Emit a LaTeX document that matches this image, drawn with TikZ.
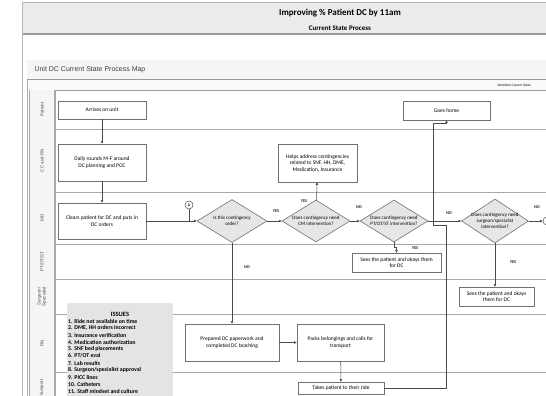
\documentclass[tikz,border=0pt]{standalone}
\usepackage{fontspec}
\setmainfont{Carlito}
\newfontfamily\arialfont{Liberation Sans}
\usetikzlibrary{arrows.meta, shapes.geometric, calc}
\definecolor{hdrfill}{HTML}{EBEBEB}
\definecolor{framegray}{HTML}{9A9A9A}
\definecolor{lanegray}{HTML}{A8A8A8}
\definecolor{boxgray}{HTML}{707070}
\definecolor{flowgray}{HTML}{4A4A4A}
\definecolor{decfill}{HTML}{E6E6E6}
\definecolor{issuefill}{HTML}{E4E4E4}

\begin{document}
\begin{tikzpicture}[
    x=1pt, y=-1pt,
    font=\fontsize{5.5}{6.5}\selectfont,
    procbox/.style={draw=boxgray, fill=white, line width=0.6pt, inner sep=1pt, align=center},
    decision/.style={diamond, draw=boxgray, fill=decfill, line width=0.6pt, inner sep=-8pt, align=center,
        font=\fontsize{5}{5.8}\selectfont},
    flow/.style={draw=flowgray, line width=0.5pt, -{Triangle[length=2.6pt, width=2.4pt]}},
    plain/.style={draw=flowgray, line width=0.5pt},
    conn/.style={circle, draw=flowgray, fill=white, line width=0.5pt, inner sep=0pt, minimum size=8pt,
        font=\fontsize{4}{4}\selectfont\bfseries},
    answer/.style={font=\fontsize{4.3}{4.3}\selectfont\bfseries, text=black!85},
    lanelbl/.style={rotate=90, align=center, text=black!70, font=\arialfont\fontsize{4.5}{5}\selectfont},
]
\clip (0,0) rectangle (546,396);
\useasboundingbox (0,0) rectangle (546,396);

% Page header
\fill[hdrfill] (22,2) rectangle (548,34);
\draw[framegray, line width=1.5pt] (22,34) -- (548,34);
\draw[framegray!70] (22,2) -- (548,2);
\draw[framegray!70] (22,2) -- (22,400);
\node[font=\fontsize{9}{9}\selectfont\bfseries] (title) at (340,13) {Improving \% Patient DC by 11am};
\node[font=\fontsize{7}{7}\selectfont\bfseries] (subtitle) at (340,28) {Current State Process};

% Map panel
\draw[framegray!80, fill=white] (27,60) rectangle (550,400);
\fill[black!4] (27,60) rectangle (550,79);
\draw[framegray, line width=1pt] (27,79) -- (550,79);
\node[anchor=west, text=black!75, font=\arialfont\fontsize{7}{7}\selectfont] (maptitle) at (31,70) {Unit DC Current State Process Map};
\fill[black!2] (29,80) rectangle (550,90);
\draw[framegray] (29,90) -- (550,90);
\node[anchor=west, font=\arialfont\fontsize{3.2}{3.2}\selectfont] (wftag) at (494,85) {Workflow Current State};

% Swim lanes
\foreach \lbl/\ya/\yb [count=\i] in {Patient/90/129, CC and RN/129/192, MD/192/244, {PT/OT/ST}/244/279,
    {Surgeon/\\Specialist}/279/314, RN/314/372, Transport/372/406} {
    \fill[black!4] (29,\ya) rectangle (55,\yb);
    \draw[lanegray, line width=0.8pt] (29,\yb) -- (550,\yb);
    \node[lanelbl] (lane\i) at (42,{(\ya+\yb)/2}) {\lbl};
}
\draw[lanegray, line width=0.8pt] (29,90) -- (29,400);
\draw[lanegray, line width=1.2pt] (55,90) -- (55,400);

% Process steps
\node[procbox, minimum width=88, minimum height=18] (arrive) at (102,110) {Arrives on unit};
\node[procbox, minimum width=88, minimum height=37] (rounds) at (102,162.5) {Daily rounds M-F around\\DC planning and POC};
\node[procbox, minimum width=88, minimum height=36] (clears) at (102,221) {Clears patient for DC and puts in\\DC orders};
\node[procbox, minimum width=79, minimum height=38] (helps) at (317.5,163) {Helps address contingencies\\related to SNF, HH, DME,\\Medication, Insurance};
\node[procbox, minimum width=87, minimum height=19] (goes) at (446.5,110.5) {Goes home};
\node[procbox, minimum width=89, minimum height=19] (sees1) at (396.5,262.5) {Sees the patient and okays them\\for DC};
\node[procbox, minimum width=75, minimum height=19] (sees2) at (496.5,296.5) {Sees the patient and okays\\them for DC};
\node[procbox, minimum width=94, minimum height=37] (prep) at (232,342.5) {Prepared DC paperwork and\\completed DC teaching};
\node[procbox, minimum width=87, minimum height=37] (packs) at (340.5,342.5) {Packs belongings and calls for\\transport};
\node[procbox, minimum width=86, minimum height=12] (takes) at (341,388) {Takes patient to their ride};

% Decisions
\node[decision, minimum width=70, minimum height=43] (dec1) at (232,221) {Is this contingency\\order?};
\node[decision, minimum width=68, minimum height=42] (dec2) at (316,221) {Does contingency need\\CM intervention?};
\node[decision, minimum width=68, minimum height=42] (dec3) at (394,221) {Does contingency need\\PT/OT/ST intervention?};
\node[decision, minimum width=67, minimum height=44] (dec4) at (495,221) {Does contingency need\\surgeon/specialist\\intervention?};

% Off-page connectors
\node[conn] (circA) at (189,205) {A};
\node[conn] (circA2) at (547,221) {A};

% Flow
\draw[flow] (arrive) -- (rounds);
\draw[flow] (rounds) -- (clears);
\draw[flow] (clears) -- (dec1);
\draw[plain] (circA.south) -- (circA.south |- clears.east);
\draw[flow] (dec1) -- (dec2);
\draw[flow] (dec2) -- (helps);
\draw[flow] (dec2) -- (dec3);
\draw[flow] (dec3.south) -- ++(0,5) -| (sees1.north);
\draw[flow] (dec3) -- (dec4);
\draw[flow] (dec4) -- (circA2);
\draw[flow] (dec4.south) -- (dec4.south |- sees2.north);
\draw[flow] (dec1.south) -- (prep.north);
\draw[flow] (prep) -- (packs);
\draw[flow] (packs) -- (takes);
\coordinate (jogA) at (446,225);
\coordinate (jogB) at (433,123);
\draw[flow] (takes.east) -| (jogA) -| (jogB) -| (goes.south);

% Answers
\node[answer] (yes1) at (276,211) {YES};
\node[answer] (yes2) at (304,201) {YES};
\node[answer] (no1) at (359,207) {NO};
\node[answer] (yes3) at (415,248) {YES};
\node[answer] (no2) at (449,213) {NO};
\node[answer] (no3) at (537,207) {NO};
\node[answer] (yes4) at (513,262) {YES};
\node[answer] (no4) at (247,267) {NO};

% Issues list
\fill[issuefill] (67,303) rectangle (173,400);
\node[font=\fontsize{6.5}{6.5}\selectfont\bfseries] (issuehead) at (120,314) {ISSUES};
\foreach \t [count=\i] in {{Ride not available on time}, {DME, HH orders incorrect}, {Insurance verification},
    {Medication authorization}, {SNF bed placements}, {PT/OT eval}, {Lab results},
    {Surgeon/specialist approval}, {PICC lines}, {Catheters}, {Staff mindset and culture}} {
    \node[anchor=west, inner sep=0pt, font=\fontsize{5.8}{5.8}\selectfont\bfseries] (issue\i) at (68,{314+7*\i}) {\i. \t};
}

\end{tikzpicture}
\end{document}
